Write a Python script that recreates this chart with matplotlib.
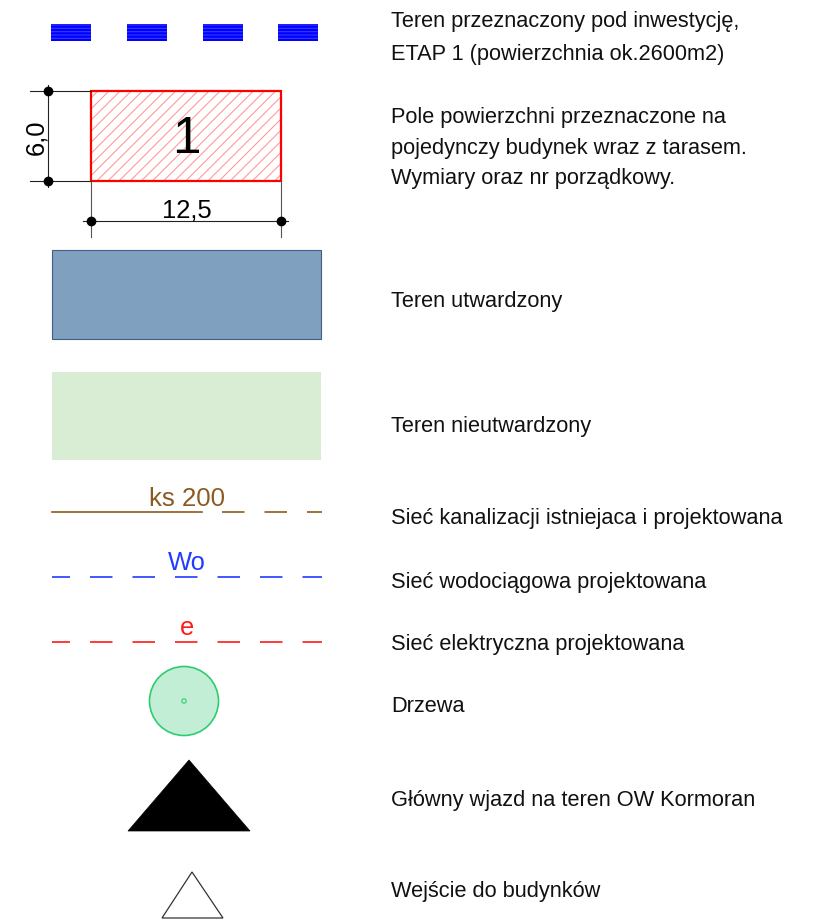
import matplotlib
matplotlib.use("Agg")
import matplotlib.pyplot as plt
from matplotlib.patches import Rectangle, Circle, Polygon

plt.rcParams['font.family'] = ['Liberation Sans', 'DejaVu Sans']
plt.rcParams['lines.scale_dashes'] = False
plt.rcParams['hatch.linewidth'] = 0.8

# ---- legend content ----
legend_labels = [
    ["Teren przeznaczony pod inwestycję,", "ETAP 1 (powierzchnia ok.2600m2)"],
    ["Pole powierzchni przeznaczone na", "pojedynczy budynek wraz z tarasem.",
     "Wymiary oraz nr porządkowy."],
    ["Teren utwardzony"],
    ["Teren nieutwardzony"],
    ["Sieć kanalizacji istniejaca i projektowana"],
    ["Sieć wodociągowa projektowana"],
    ["Sieć elektryczna projektowana"],
    ["Drzewa"],
    ["Główny wjazd na teren OW Kormoran"],
    ["Wejście do budynków"],
]
label_baselines = [[27, 60], [123, 154, 184], [307], [432], [524], [588], [650],
                   [712], [806], [897]]
building_number = "1"
building_width = "12,5"
building_depth = "6,0"
network_tags = ["ks 200", "Wo", "e"]
network_colors = ["#8b5a1e", "#1f3cff", "#ff1a1a"]

PX = 0.72  # points per pixel at dpi 100

fig = plt.figure(figsize=(8.16, 9.22), dpi=100)
ax = fig.add_axes([0, 0, 1, 1])
ax.set_xlim(0, 816)
ax.set_ylim(922, 0)
ax.axis('off')

# labels
for lines, bases in zip(legend_labels, label_baselines):
    for t, b in zip(lines, bases):
        ax.text(391, b, t, fontsize=15.7, va='baseline', ha='left', color='#111111')

# 1. blue dashed boundary
for x0 in [51, 127, 203, 278]:
    ax.add_patch(Rectangle((x0, 24), 40, 17, facecolor='#0000ff', edgecolor='#3a3aff',
                           lw=0, hatch='-----'))

# 2. building field with dimensions
ax.add_patch(Rectangle((91, 91), 190, 90, facecolor='white', edgecolor='#ff9a9a',
                       lw=0, hatch='///'))
ax.add_patch(Rectangle((91, 91), 190, 90, facecolor='none', edgecolor='#ff0000', lw=1.6))
ax.text(186, 153, building_number, fontsize=37, ha='center', va='baseline', color='black')
dim_c = '#222222'
ax.plot([48, 48], [85, 187], color=dim_c, lw=0.8)
ax.plot([30, 91], [91, 91], color=dim_c, lw=0.8)
ax.plot([30, 91], [181, 181], color=dim_c, lw=0.8)
ax.plot([83, 288], [221, 221], color=dim_c, lw=0.8)
ax.plot([91, 91], [181, 237], color='#555555', lw=0.8)
ax.plot([281, 281], [181, 237], color='#555555', lw=0.8)
ax.plot([48, 48, 91, 281], [91, 181, 221, 221], 'o', color='black', ms=6)
ax.text(187, 217, building_width, fontsize=18.4, ha='center', va='baseline')
ax.text(43, 137, building_depth, fontsize=18.4, ha='center', va='baseline',
        rotation=90, rotation_mode='anchor')

# 3. paved area
ax.add_patch(Rectangle((52, 250), 269, 89, facecolor='#7fa0be', edgecolor='#3f5f88', lw=0.8))
# 4. unpaved area
ax.add_patch(Rectangle((52, 372), 269, 88, facecolor='#d9ecd4', edgecolor='none'))

# 5-7 networks
on, off = 22.5 * PX, 20 * PX
# sewage: solid part then dashed
ax.plot([52, 202], [512, 512], color=network_colors[0], lw=1.2)
ax.plot([202, 322], [512, 512], color=network_colors[0], lw=1.2,
        linestyle=(on, (on, off)), dash_capstyle='butt')
ax.text(187, 506, network_tags[0], fontsize=18.6, ha='center', va='baseline',
        color=network_colors[0])
for y, tag, col, tb in [(577, network_tags[1], network_colors[1], 570),
                        (642, network_tags[2], network_colors[2], 635)]:
    ax.plot([52, 322], [y, y], color=col, lw=1.2,
            linestyle=(4.5 * PX, (on, off)), dash_capstyle='butt')
    ax.text(187, tb, tag, fontsize=18.4, ha='center', va='baseline', color=col)

# 8. tree
ax.add_patch(Circle((184, 701), 34.5, facecolor='#c3eed6', edgecolor='#2ecc71', lw=1.2))
ax.add_patch(Circle((184, 701), 2.2, facecolor='none', edgecolor='#2ecc71', lw=0.8))

# 9. main entrance
ax.add_patch(Polygon([(128, 831), (189, 760), (250, 831)], closed=True,
                     facecolor='black', edgecolor='black', lw=0.5))
# 10. building entrance
ax.add_patch(Polygon([(162, 918), (192, 872), (223, 918)], closed=True,
                     facecolor='white', edgecolor='#333333', lw=0.9))

fig.savefig('out.png', dpi=100)
